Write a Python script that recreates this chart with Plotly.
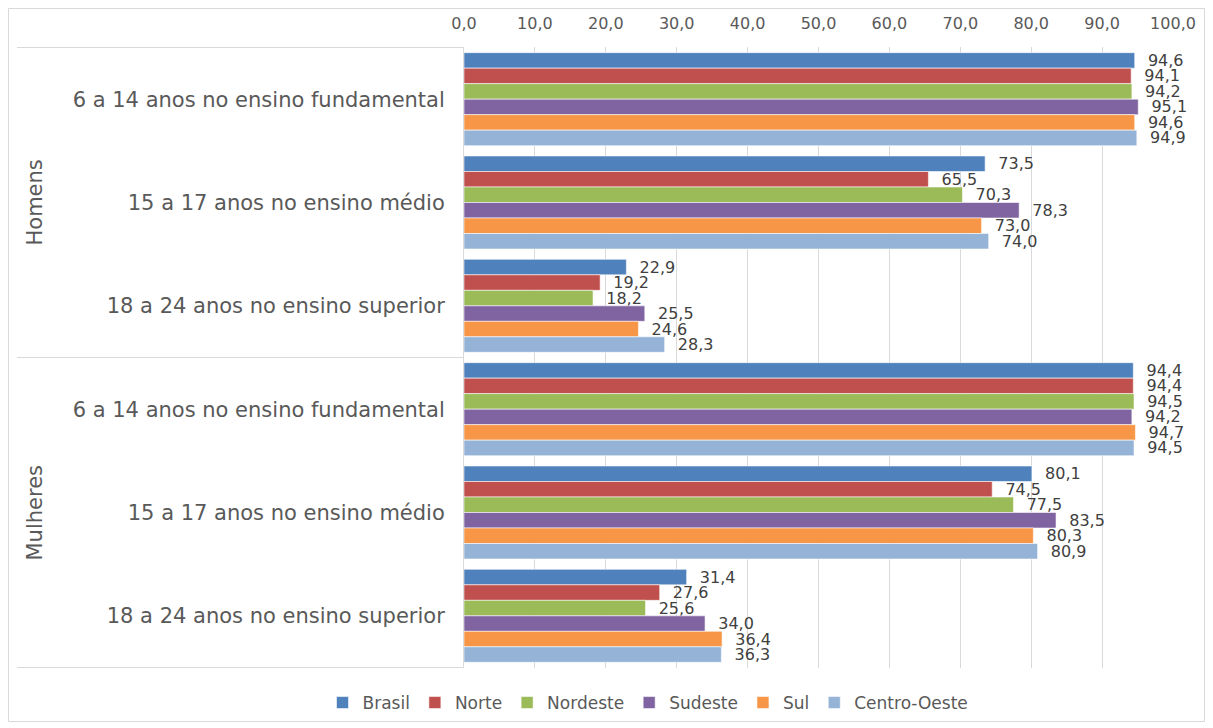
import plotly.graph_objects as go

# Grupos e faixas (eixo de categorias)
groups = ['Homens', 'Mulheres']
levels = ['6 a 14 anos no ensino fundamental',
          '15 a 17 anos no ensino médio',
          '18 a 24 anos no ensino superior']

# Valores por região, na ordem: Homens (3 faixas), Mulheres (3 faixas)
brasil = [94.6, 73.5, 22.9, 94.4, 80.1, 31.4]
norte = [94.1, 65.5, 19.2, 94.4, 74.5, 27.6]
nordeste = [94.2, 70.3, 18.2, 94.5, 77.5, 25.6]
sudeste = [95.1, 78.3, 25.5, 94.2, 83.5, 34.0]
sul = [94.6, 73.0, 24.6, 94.7, 80.3, 36.4]
centro_oeste = [94.9, 74.0, 28.3, 94.5, 80.9, 36.3]

x_ticks = [0, 10, 20, 30, 40, 50, 60, 70, 80, 90, 100]

series = [
    ('Brasil', brasil, '#4F81BD'),
    ('Norte', norte, '#C0504D'),
    ('Nordeste', nordeste, '#9BBB59'),
    ('Sudeste', sudeste, '#8064A2'),
    ('Sul', sul, '#F79646'),
    ('Centro-Oeste', centro_oeste, '#95B3D7'),
]

y_keys = [f'{g}|{lv}' for g in groups for lv in levels]
y_text = [lv for g in groups for lv in levels]

FONT = 'Verdana, DejaVu Sans, sans-serif'

fig = go.Figure()
for name, vals, color in series:
    fig.add_trace(go.Bar(
        y=y_keys,
        x=vals,
        name=name,
        orientation='h',
        marker=dict(color=color, line=dict(color='rgba(255,255,255,0.7)', width=0.8)),
        texttemplate='\u00a0\u00a0%{x:.1f}',
        textposition='outside',
        textfont=dict(size=16, color='#404040', family=FONT),
        constraintext='none',
        cliponaxis=False,
        hoverinfo='x+name',
    ))

# the page body has an 8px margin, so the figure starts at (8, 8) of the window
OFF = 8
W, H = 1213 - OFF, 728 - OFF
L, T = 464 - OFF, 47 - OFF
R, B = W - (1173 - OFF), H - (668 - OFF)
pw, ph = W - L - R, H - T - B


def px_x(px):
    # window pixel -> paper x
    return (px - OFF - L) / pw


def px_y(py):
    # window pixel -> paper y
    return (H - B - (py - OFF)) / ph


shapes = []
# separator lines of the category axis
for yb in [-0.5, 2.5, 5.5]:
    shapes.append(dict(type='line', xref='paper', yref='y',
                       x0=px_x(17), x1=0, y0=yb, y1=yb,
                       line=dict(color='#d9d9d9', width=1)))
# chart border
shapes.append(dict(type='rect', xref='paper', yref='paper',
                   x0=px_x(8.5), x1=px_x(1204.5), y0=px_y(8.5), y1=px_y(721.5),
                   line=dict(color='#d9d9d9', width=1), layer='below'))

annotations = []
for i, g in enumerate(groups):
    annotations.append(dict(
        text=g, xref='paper', yref='y',
        x=px_x(34), y=y_keys[i * 3 + 1],
        textangle=-90, showarrow=False,
        xanchor='center', yanchor='middle',
        font=dict(size=21, color='#595959', family=FONT),
    ))

fig.update_layout(
    barmode='group',
    bargap=0.1,
    bargroupgap=0,
    width=W, height=H,
    margin=dict(l=L, r=R, t=T, b=B, pad=0, autoexpand=False),
    paper_bgcolor='white',
    plot_bgcolor='white',
    separators=',.',
    font=dict(family=FONT, color='#595959'),
    xaxis=dict(
        side='top', range=[0, 100],
        tickvals=x_ticks, tickformat='.1f',
        tickfont=dict(size=16, color='#595959'),
        showgrid=True, gridcolor='#d9d9d9', gridwidth=1,
        zeroline=False, showline=False, ticks='',
        automargin=False, ticklabelstandoff=14,
    ),
    yaxis=dict(
        type='category',
        categoryorder='array', categoryarray=y_keys,
        tickvals=y_keys, ticktext=y_text,
        autorange='reversed',
        tickfont=dict(size=21, color='#595959'),
        ticklabelstandoff=14,
        showline=True, linecolor='#d9d9d9', linewidth=1,
        showgrid=False, zeroline=False, ticks='',
        automargin=False,
    ),
    legend=dict(
        orientation='h',
        x=px_x(648), xanchor='center',
        y=px_y(703), yanchor='middle',
        font=dict(size=17, color='#595959'),
        itemwidth=30,
        traceorder='normal',
    ),
    shapes=shapes,
    annotations=annotations,
)

fig.write_html('out.html')
